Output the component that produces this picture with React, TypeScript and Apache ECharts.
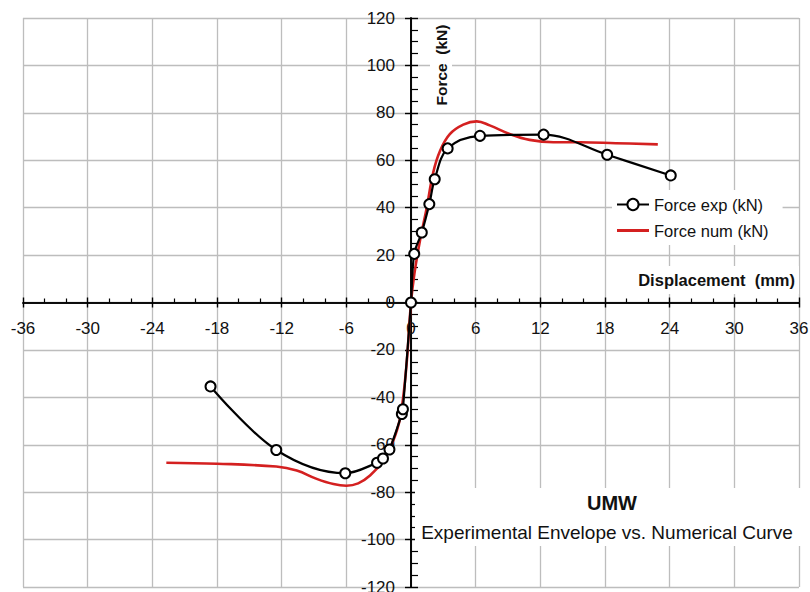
import React, { useEffect, useRef } from "react";
import * as echarts from "echarts";

const expX = [-18.6, -12.5, -6.1, -3.15, -2.6, -2.0, -0.85, -0.75, 0, 0.3, 1.0, 1.7, 2.2, 3.4, 6.4, 12.3, 18.2, 24.1];
const expY = [-35.4, -62.2, -72, -67.6, -65.8, -62, -47, -45, 0, 20.5, 29.5, 41.5, 52, 65, 70.3, 70.8, 62.3, 53.6];

const numX = [-22.7, -18, -12.5, -10.6, -8.75, -7.2, -6.0, -4.9, -3.8, -2.57, -1.64, -1.0, -0.45, 0, 0.31, 0.83, 1.46, 2.07, 2.7, 3.6, 4.85, 6.1, 7.3, 9.2, 11, 13.2, 15.7, 19, 22.9];
const numY = [-67.6, -68, -69.2, -70.9, -74.4, -76.6, -77.3, -76.3, -73, -66.7, -58.2, -48.4, -28, 0, 12, 26, 40, 55, 64, 71, 75, 76.4, 74.7, 71, 68.6, 67.6, 67.6, 67.2, 66.7];

const xTicks = { min: -36, max: 36, interval: 6 };
const yTicks = { min: -120, max: 120, interval: 20 };

const FONT = "'Liberation Sans', Arial, sans-serif";

const W = 810;
const H = 592;
const G = { left: 23, right: 11, top: 18, bottom: 5 };

export default function App() {
  const ref = useRef<HTMLDivElement>(null);
  useEffect(() => {
    document.body.style.margin = "0";
    const chart = echarts.init(ref.current!, null, { renderer: "svg" });
    const gridColor = "#bdbdbd";
    const common = (isX: boolean) => ({
      type: "value",
      min: isX ? xTicks.min : yTicks.min,
      max: isX ? xTicks.max : yTicks.max,
      interval: isX ? xTicks.interval : yTicks.interval,
    });
    const gw = W - G.left - G.right;
    const gh = H - G.top - G.bottom;
    // offsets to bring the axes to the zero of the other axis
    const xOff = -gh * (0 - yTicks.min) / (yTicks.max - yTicks.min);
    const yOff = -gw * (0 - xTicks.min) / (xTicks.max - xTicks.min);
    const gridBox = { ...G, containLabel: false, outerBoundsMode: "none" };
    const axisLine = { onZero: false, lineStyle: { color: "#000", width: 1.6 } };
    const tickStyle = { color: "#000", width: 1.4 };
    const minorStyle = { color: "#000", width: 1.2 };
    chart.setOption({
      animation: false,
      backgroundColor: "#fff",
      textStyle: { fontFamily: FONT },
      grid: [{ ...gridBox }],
      xAxis: [
        {
          ...common(true),
          position: "bottom",
          offset: xOff,
          axisLine,
          axisTick: { show: true, inside: false, length: 5, lineStyle: tickStyle },
          minorTick: { show: false },
          axisLabel: { show: true, margin: 17, color: "#111", fontSize: 17, fontFamily: FONT },
          splitLine: { show: true, lineStyle: { color: gridColor, width: 1.3 } },
          z: 3,
        },
        {
          ...common(true),
          position: "bottom",
          offset: xOff,
          axisLine,
          axisTick: { show: true, inside: true, length: 5, lineStyle: tickStyle },
          minorTick: { show: true, splitNumber: 3, length: 4, lineStyle: minorStyle },
          axisLabel: { show: false },
          splitLine: { show: false },
          z: 3,
        },
      ],
      yAxis: [
        {
          ...common(false),
          position: "left",
          offset: yOff,
          axisLine,
          axisTick: { show: true, inside: false, length: 6, lineStyle: tickStyle },
          minorTick: { show: false },
          axisLabel: { show: true, margin: 16, color: "#111", fontSize: 17, fontFamily: FONT },
          splitLine: { show: true, lineStyle: { color: gridColor, width: 1.3 } },
          z: 3,
        },
        {
          ...common(false),
          position: "left",
          offset: yOff,
          axisLine,
          axisTick: { show: true, inside: true, length: 7, lineStyle: tickStyle },
          minorTick: { show: true, splitNumber: 4, length: 7, lineStyle: minorStyle },
          axisLabel: { show: false },
          splitLine: { show: false },
          z: 3,
        },
      ],
      legend: {
        left: 612,
        top: 190,
        orient: "vertical",
        backgroundColor: "#fff",
        padding: [6, 14, 6, 4],
        itemGap: 9,
        itemWidth: 32,
        itemHeight: 14,
        textStyle: { fontSize: 16.5, color: "#111", fontFamily: FONT },
        data: [
          { name: "Force exp (kN)" },
          { name: "Force num (kN)", icon: "path://M0,0L32,0L32,3L0,3Z" },
        ],
        z: 5,
      },
      graphic: [
        {
          type: "rect",
          shape: { x: 415, y: 488, width: 388, height: 58 },
          style: { fill: "#fff" },
          z: 4,
        },
        {
          type: "text",
          x: 612,
          y: 503,
          style: { text: "UMW", fontSize: 20, fontWeight: "bold", fill: "#111", align: "center", verticalAlign: "middle", fontFamily: FONT },
          z: 5,
        },
        {
          type: "text",
          x: 607,
          y: 532,
          style: { text: "Experimental Envelope vs. Numerical Curve", fontSize: 19, fill: "#111", align: "center", verticalAlign: "middle", fontFamily: FONT },
          z: 5,
        },
        {
          type: "rect",
          shape: { x: 633, y: 266, width: 166, height: 28 },
          style: { fill: "#fff" },
          z: 4,
        },
        {
          type: "text",
          x: 795,
          y: 280,
          style: { text: "Displacement  (mm)", fontSize: 16.5, fontWeight: "bold", fill: "#111", align: "right", verticalAlign: "middle", fontFamily: FONT },
          z: 5,
        },
        {
          type: "rect",
          shape: { x: 430, y: 22, width: 22, height: 88 },
          style: { fill: "#fff" },
          z: 4,
        },
        {
          type: "text",
          x: 441,
          y: 65,
          rotation: Math.PI / 2,
          style: { text: "Force  (kN)", fontSize: 15.5, fontWeight: "bold", fill: "#111", align: "center", verticalAlign: "middle", fontFamily: FONT },
          z: 5,
        },
      ],
      series: [
        {
          name: "Force exp (kN)",
          type: "line",
          xAxisIndex: 0,
          yAxisIndex: 0,
          data: expX.map((x, i) => [x, expY[i]]),
          smooth: 0.35,
          symbol: "circle",
          symbolSize: 10,
          showSymbol: true,
          lineStyle: { color: "#000", width: 2.2 },
          itemStyle: { color: "#fff", borderColor: "#000", borderWidth: 2 },
          z: 6,
        },
        {
          name: "Force num (kN)",
          type: "line",
          xAxisIndex: 0,
          yAxisIndex: 0,
          data: numX.map((x, i) => [x, numY[i]]),
          smooth: 0.4,
          showSymbol: false,
          symbol: "none",
          lineStyle: { color: "#d42020", width: 2.6 },
          itemStyle: { color: "#d42020" },
          z: 5,
        },
      ],
    });
    return () => chart.dispose();
  }, []);
  return <div ref={ref} style={{ width: W, height: H }} />;
}
